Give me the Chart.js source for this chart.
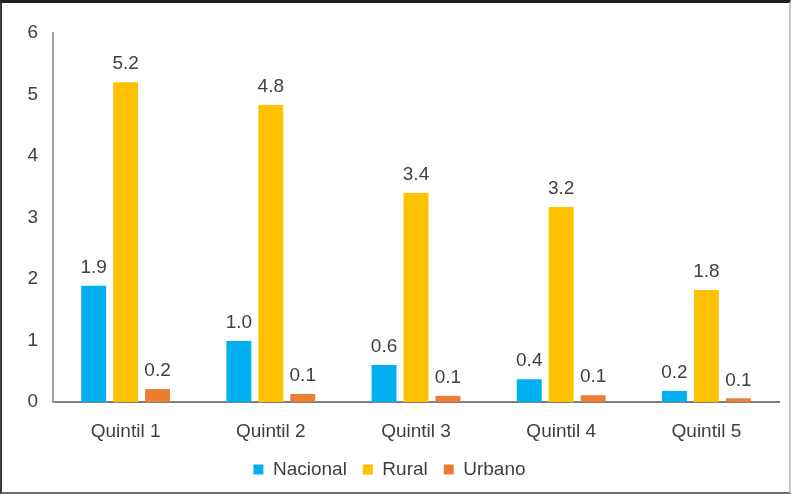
<!DOCTYPE html>
<html>
<head>
<meta charset="utf-8">
<script src="https://cdn.jsdelivr.net/npm/chart.js@4.4.1/dist/chart.umd.min.js"></script>
<style>
    body { margin: 0; background: #fff; }
    #wrap { position: relative; width: 791px; height: 494px; }
    #frame {
        position: absolute; left: 0; top: 0; width: 791px; height: 494px;
        box-sizing: border-box; pointer-events: none;
        border-top: 3px solid #1e1e1e; border-left: 2px solid #3a3a3a;
        border-right: 2px solid #c4c4c4; border-bottom: 2px solid #6e6e6e;
    }
</style>
</head>
<body>
<div id="wrap">
    <canvas id="myChart" width="791" height="494"></canvas>
    <div id="frame"></div>
</div>
<script>
var categories = ["Quintil 1", "Quintil 2", "Quintil 3", "Quintil 4", "Quintil 5"];
var nacional = [1.89, 0.99, 0.6, 0.37, 0.18];
var rural = [5.2, 4.83, 3.4, 3.17, 1.82];
var urbano = [0.21, 0.13, 0.1, 0.11, 0.06];
var yTicks = [0, 1, 2, 3, 4, 5, 6];

var txtColor = "#404040";
var fontFam = "'Liberation Sans', Arial, sans-serif";

// labels over the bars
var barLabels = {
    id: "barLabels",
    afterDatasetsDraw: function (chart) {
        var ctx = chart.ctx;
        ctx.save();
        ctx.font = "19px " + fontFam;
        ctx.fillStyle = txtColor;
        ctx.textAlign = "center";
        ctx.textBaseline = "middle";
        chart.data.datasets.forEach(function (ds, i) {
            var meta = chart.getDatasetMeta(i);
            meta.data.forEach(function (bar, j) {
                ctx.fillText(ds.data[j].toFixed(1), bar.x, bar.y - 18);
            });
        });
        ctx.restore();
    },
};

const ctx = document.getElementById("myChart");
var myChart = new Chart(ctx, {
    type: "bar",
    data: {
        labels: categories,
        datasets: [
            { label: "Nacional", data: nacional, backgroundColor: "#00b0f0" },
            { label: "Rural", data: rural, backgroundColor: "#ffc000" },
            { label: "Urbano", data: urbano, backgroundColor: "#ed7d31" },
        ],
    },
    options: {
        responsive: false,
        animation: false,
        categoryPercentage: 0.66,
        barPercentage: 0.78,
        layout: { padding: { top: 33, right: 12, bottom: 5, left: 0 } },
        plugins: {
            tooltip: { enabled: false },
            legend: {
                position: "bottom",
                labels: {
                    boxWidth: 10,
                    boxHeight: 10,
                    padding: 16,
                    color: txtColor,
                    font: { size: 19, family: fontFam },
                },
            },
        },
        scales: {
            x: {
                grid: { display: false, drawTicks: false },
                border: { color: "#7f7f7f", width: 2 },
                ticks: { color: txtColor, padding: 18, font: { size: 19, family: fontFam } },
                afterFit: function (scale) { scale.height = 42; },
            },
            y: {
                min: 0,
                max: 6,
                afterBuildTicks: function (scale) {
                    scale.ticks = yTicks.map(function (v) { return { value: v }; });
                },
                grid: { display: false, drawTicks: false },
                border: { color: "#a0a0a0", width: 2 },
                ticks: { color: txtColor, padding: 15, font: { size: 19, family: fontFam } },
                afterFit: function (scale) { scale.width = 53; },
            },
        },
    },
    plugins: [barLabels],
});
</script>
</body>
</html>
